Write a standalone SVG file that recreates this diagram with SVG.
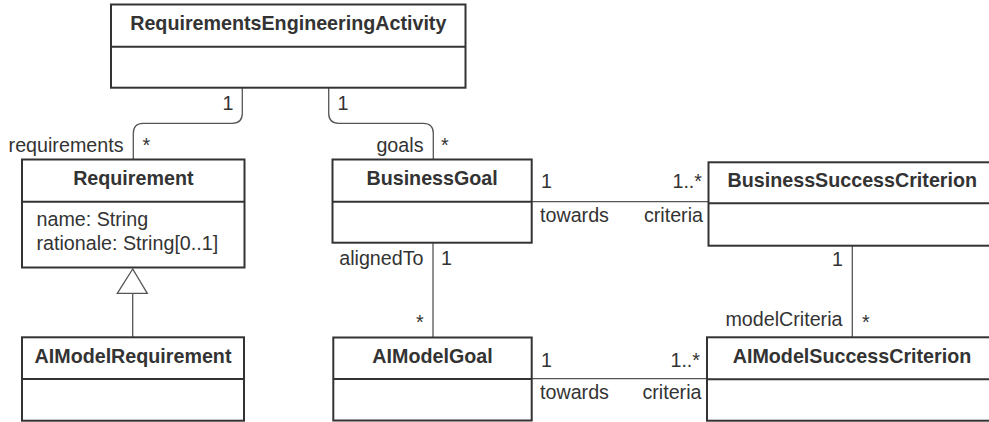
<svg xmlns="http://www.w3.org/2000/svg" width="989" height="422" viewBox="0 0 989 422">
<defs>
<style>
.box{fill:#fff;stroke:#333;stroke-width:2}
.div{stroke:#333;stroke-width:2;fill:none}
.t{font-family:"Liberation Sans",Arial,sans-serif;font-size:19.7px;font-weight:bold;fill:#333;text-anchor:middle}
.a{font-family:"Liberation Sans",Arial,sans-serif;font-size:19.7px;fill:#333}
.e{text-anchor:end}
.c{fill:none;stroke:#555;stroke-width:1.3}
.tri{fill:#fff;stroke:#555;stroke-width:1.3}
</style>
</defs>
<rect width="989" height="422" fill="#fff"/>
<g id="connectors">
<path class="c" d="M242.3 88 V113.3 Q242.3 123.3 232.3 123.3 H143.3 Q133.3 123.3 133.3 133.3 V159.5"/>
<path class="c" d="M328.7 88 V113.3 Q328.7 123.3 338.7 123.3 H423.3 Q433.3 123.3 433.3 133.3 V159.5"/>
<path class="c" d="M433 242.7 V337.5"/>
<path class="c" d="M852.3 245.7 V337.3"/>
<path class="c" d="M532 201.7 H708"/>
<path class="c" d="M532 378.7 H707"/>
<path class="c" d="M132.7 293.3 V337.3"/>
<polygon class="tri" points="132.7,269 117.3,293.3 147.3,293.3"/>
<text class="a e" x="233.5" y="110">1</text>
<text class="a" x="337.5" y="110">1</text>
<text class="a e" x="123.5" y="152">requirements</text>
<text class="a" x="142.5" y="152">*</text>
<text class="a e" x="423.5" y="152">goals</text>
<text class="a" x="441" y="152">*</text>
<text class="a e" x="423.5" y="265">alignedTo</text>
<text class="a" x="441" y="265">1</text>
<text class="a" x="416" y="329">*</text>
<text class="a" x="541" y="187.5">1</text>
<text class="a e" x="702" y="187.5">1..*</text>
<text class="a" x="540" y="222">towards</text>
<text class="a e" x="703" y="222">criteria</text>
<text class="a" x="541" y="366.7">1</text>
<text class="a e" x="700" y="366.7">1..*</text>
<text class="a" x="540" y="398.5">towards</text>
<text class="a e" x="701.5" y="398.5">criteria</text>
<text class="a e" x="843" y="265.7">1</text>
<text class="a e" x="842.5" y="326">modelCriteria</text>
<text class="a" x="862" y="329">*</text>
</g>
<g id="RequirementsEngineeringActivity">
<rect class="box" x="111" y="4.5" width="354.5" height="83.2"/>
<path class="div" d="M111 46.7 H465.5"/>
<text class="t" x="288.3" y="29.5">RequirementsEngineeringActivity</text>
</g>
<g id="Requirement">
<rect class="box" x="22" y="159.5" width="222.5" height="108"/>
<path class="div" d="M22 201.7 H244.5"/>
<text class="t" x="133.3" y="185.3">Requirement</text>
<text class="a" x="36.5" y="226">name: String</text>
<text class="a" x="36.5" y="249.8">rationale: String[0..1]</text>
</g>
<g id="AIModelRequirement">
<rect class="box" x="22" y="337.3" width="222" height="83.4"/>
<path class="div" d="M22 379 H244"/>
<text class="t" x="133" y="362.7">AIModelRequirement</text>
</g>
<g id="BusinessGoal">
<rect class="box" x="332.5" y="159.5" width="199.2" height="83.2"/>
<path class="div" d="M332.5 201.7 H531.7"/>
<text class="t" x="432.1" y="185.3">BusinessGoal</text>
</g>
<g id="AIModelGoal">
<rect class="box" x="333.3" y="337.5" width="198.4" height="83"/>
<path class="div" d="M333.3 379 H531.7"/>
<text class="t" x="432.5" y="362.7">AIModelGoal</text>
</g>
<g id="BusinessSuccessCriterion">
<rect class="box" x="708.5" y="162.3" width="288" height="83.4"/>
<path class="div" d="M708.5 203.3 H996.5"/>
<text class="t" x="852.3" y="187.3">BusinessSuccessCriterion</text>
</g>
<g id="AIModelSuccessCriterion">
<rect class="box" x="707" y="337.3" width="289.5" height="83.4"/>
<path class="div" d="M707 379.3 H996.5"/>
<text class="t" x="852" y="362.7">AIModelSuccessCriterion</text>
</g>
</svg>
